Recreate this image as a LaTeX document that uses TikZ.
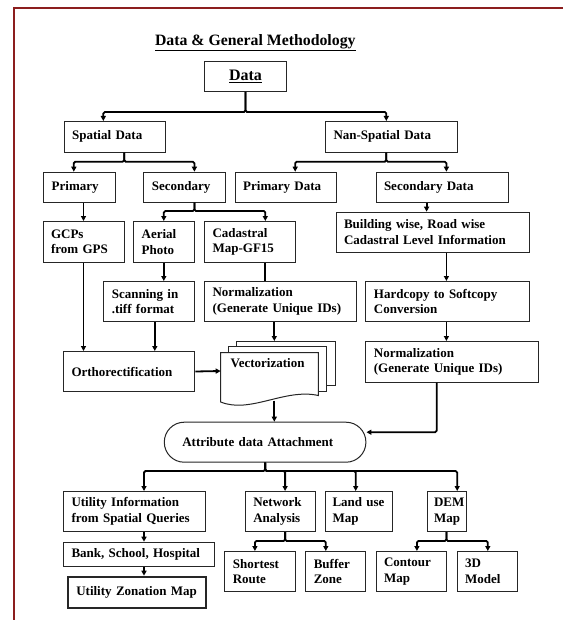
\documentclass[tikz,border=0pt]{standalone}
\usepackage{fontspec}
\setmainfont{Liberation Serif}
\usetikzlibrary{arrows.meta}
\definecolor{framered}{RGB}{140,30,30}

\begin{document}
\begin{tikzpicture}[
    x=1pt, y=-1pt,
    every node/.style={font=\fontsize{13}{15.5}\selectfont\bfseries},
    box/.style={draw=black!85, line width=1, fill=white, anchor=north west,
        align=left, inner xsep=8, inner ysep=0},
    conn/.style={line width=1.8, rounded corners=1.5},
    arr/.style={conn, -{Triangle[length=5,width=5]}},
 ]
    \useasboundingbox (0,0) rectangle (563,620);
    \draw[framered, line width=2] (14.4,620) -- (14.4,8) -- (563,8);

    \node[font=\fontsize{15.8}{18}\selectfont\bfseries] (title) at (255.3,42.7)
        {\underline{Data \& General Methodology}};
    \node[box, align=center, inner xsep=0, minimum width=82, minimum height=30,
        font=\fontsize{16}{18}\selectfont\bfseries] (data) at (204,61) {\underline{Data}};

    % first levels
    \node[box, text width=84.8pt, minimum height=30.7] (spatial) at (63.7,121) {Spatial Data};
    \node[box, text width=116pt, minimum height=30.7] (nanspatial) at (325,121) {Nan-Spatial Data};
    \node[box, text width=55.3pt, minimum height=30] (primary) at (43.2,171.7) {Primary};
    \node[box, text width=65.7pt, minimum height=30] (secondary) at (143.3,171.7) {Secondary};
    \node[box, text width=85.2pt, minimum height=30] (primdata) at (234.7,171.7) {Primary Data};
    \node[box, text width=116.1pt, minimum height=30] (secdata) at (375.5,171.7) {Secondary Data};

    \node[box, text width=65.7pt, minimum height=40.7] (gcps) at (42.5,221) {GCPs\\from GPS};
    \node[box, text width=45.2pt, minimum height=40.7] (aerial) at (133.2,221) {Aerial\\Photo};
    \node[box, text width=75.1pt, minimum height=40.7] (cadastral) at (204.1,221) {Cadastral\\Map-GF15};
    \node[box, text width=177pt, minimum height=40] (building) at (335.5,211.7)
        {Building wise, Road wise\\Cadastral Level Information};

    \node[box, text width=75.1pt, minimum height=40] (scanning) at (103.3,281) {Scanning in\\.tiff format};
    \node[box, text width=135.6pt, minimum height=40] (norm1) at (204.1,281)
        {Normalization\\(Generate Unique IDs)};
    \node[box, text width=147.1pt, minimum height=40] (hardcopy) at (365.4,281)
        {Hardcopy to Softcopy\\Conversion};
    \node[box, text width=156.1pt, minimum height=40.7] (norm2) at (365.4,341)
        {Normalization\\(Generate Unique IDs)};
    \node[box, text width=115.4pt, minimum height=40] (ortho) at (63,351) {Orthorectification};

    % stacked pages
    \draw[black!85, line width=1, fill=white] (236,341) rectangle (335,385);
    \draw[black!85, line width=1, fill=white] (228.3,346) rectangle (326.7,391);
    \draw[black!85, line width=1, fill=white] (220.7,352.7) -- (318.3,352.7) -- (318.3,395.5)
        .. controls (285,388) and (250,414) .. (220.7,402) -- cycle;
    \node[anchor=west, inner sep=0] (vect) at (230.4,363.3) {Vectorization};
    \coordinate (vtop) at (274.3,341);
    \coordinate (vleft) at (220.7,371);
    \coordinate (vbot) at (274.3,400.5);

    \node[box, rounded corners=19.9, text width=165.6pt, inner xsep=18, minimum height=40]
        (attr) at (163.8,421.7) {Attribute data Attachment};

    % outputs
    \node[box, text width=125.5pt, minimum height=40] (utility) at (63,491)
        {Utility Information\\from Spatial Queries};
    \node[box, text width=54.2pt, minimum height=40] (network) at (244.8,491) {Network\\Analysis};
    \node[box, text width=53.4pt, inner xsep=7, minimum height=40] (landuse) at (325,491) {Land~use\\Map};
    \node[box, text width=25.6pt, inner xsep=7, minimum height=40] (dem) at (426.6,491) {DEM\\Map};
    \node[box, text width=135.2pt, minimum height=24] (bank) at (63,541.7) {Bank, School, Hospital};
    \node[box, line width=2, text width=121.2pt, minimum height=31] (zonation) at (67.3,575.7)
        {Utility Zonation Map};
    \node[box, text width=54.9pt, minimum height=40] (shortest) at (224.3,551) {Shortest\\Route};
    \node[box, text width=44.1pt, minimum height=40] (buffer) at (305.3,551) {Buffer\\Zone};
    \node[box, text width=54.9pt, minimum height=40] (contour) at (375.5,551) {Contour\\Map};
    \node[box, text width=44.8pt, minimum height=40] (model) at (456.5,551) {3D\\Model};

    % connectors
    \draw[arr] (data.south) |- (103.3,112) -- (103.3,0 |- spatial.north);
    \draw[arr] (data.south) |- (386.3,112) -- (386.3,0 |- nanspatial.north);
    \draw[arr] (124.2,0 |- spatial.south) |- (73.8,161.7) -- (73.8,0 |- primary.north);
    \draw[arr] (124.2,0 |- spatial.south) |- (194.4,161.7) -- (194.4,0 |- secondary.north);
    \draw[arr] (386.3,0 |- nanspatial.south) |- (295.2,161.7) -- (295.2,0 |- primdata.north);
    \draw[arr] (386.3,0 |- nanspatial.south) |- (446.4,161.7) -- (446.4,0 |- secdata.north);

    \draw[arr] (83.5,0 |- primary.south) -- (83.5,0 |- gcps.north);
    \draw[arr] (194.4,0 |- secondary.south) |- (163.8,211) -- (163.8,0 |- aerial.north);
    \draw[arr] (194.4,0 |- secondary.south) |- (265.3,211) -- (265.3,0 |- cadastral.north);
    \draw[arr] (426.6,0 |- secdata.south) -- (426.6,0 |- building.north);
    \draw[arr] (446.4,0 |- building.south) -- (446.4,0 |- hardcopy.north);
    \draw[arr] (446.4,0 |- hardcopy.south) -- (446.4,0 |- norm2.north);
    \draw[arr] (163.8,0 |- aerial.south) -- (163.8,0 |- scanning.north);
    \draw[conn] (265.3,0 |- cadastral.south) -- (265.3,0 |- norm1.north);
    \draw[arr] (274.3,0 |- norm1.south) -- (vtop);
    \draw[arr] (83.5,0 |- gcps.south) -- (83.5,0 |- ortho.north);
    \draw[arr] (154.8,0 |- scanning.south) -- (154.8,0 |- ortho.north);
    \draw[arr] (ortho.east) -- (vleft);
    \draw[arr] (vbot) -- (274.3,0 |- attr.north);
    \draw[arr] (436.7,0 |- norm2.south) |- ([yshift=10]attr.east);

    \draw[arr] (attr.south) |- (144,471) -- (144,0 |- utility.north);
    \draw[arr] (attr.south) |- (285.1,471) -- (285.1,0 |- network.north);
    \draw[arr] (attr.south) |- (355.7,471) -- (355.7,0 |- landuse.north);
    \draw[arr] (attr.south) |- (457.2,471) -- (457.2,0 |- dem.north);
    \draw[arr] (144,0 |- utility.south) -- (144,0 |- bank.north);
    \draw[arr] (144,0 |- bank.south) -- (144,0 |- zonation.north);
    \draw[arr] (285.1,0 |- network.south) |- (254.9,541) -- (254.9,0 |- shortest.north);
    \draw[arr] (285.1,0 |- network.south) |- (325.8,541) -- (325.8,0 |- buffer.north);
    \draw[arr] (446.4,0 |- dem.south) |- (416.9,541) -- (416.9,0 |- contour.north);
    \draw[arr] (446.4,0 |- dem.south) |- (487.8,541) -- (487.8,0 |- model.north);
\end{tikzpicture}
\end{document}
